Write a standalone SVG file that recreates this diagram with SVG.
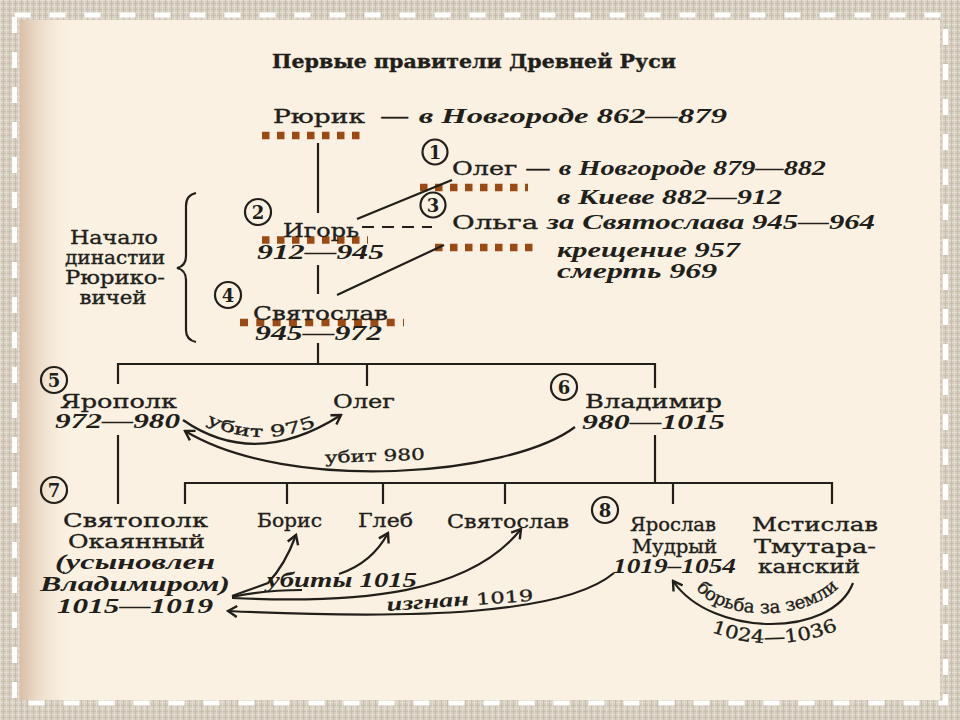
<svg xmlns="http://www.w3.org/2000/svg" width="960" height="720" viewBox="0 0 960 720">
<style>
.t{font-family:"DejaVu Serif","Liberation Serif",serif;font-size:18px;fill:#221e1a;stroke:#221e1a;stroke-width:0.35}
.it{font-family:"Liberation Serif","DejaVu Serif",serif;font-style:italic;font-weight:bold;stroke-width:0;font-size:20px}
.up{font-style:normal;font-weight:normal}
.sm{font-size:16px}
.num{font-family:"DejaVu Serif","Liberation Serif",serif;font-size:18px;font-weight:bold;fill:#221e1a;text-anchor:middle}
.ln{stroke:#221e1a;stroke-width:2.2;fill:none}
.ar{stroke:#221e1a;stroke-width:2.2;fill:none;marker-end:url(#ah)}
.cir{stroke:#221e1a;stroke-width:2.2;fill:none}
.dot{stroke:#9c4a14;stroke-width:7.5;stroke-dasharray:7.5 7.5;fill:none}
</style>
<defs>
<pattern id="burlap" width="6" height="6" patternUnits="userSpaceOnUse">
<rect width="6" height="6" fill="#d6cfc1"/>
<rect x="0" y="0" width="6" height="1" fill="#e4ded2"/>
<rect x="0" y="3" width="6" height="1" fill="#c9c0b0"/>
<rect x="0" y="0" width="1" height="6" fill="#e2dbce"/>
<rect x="3" y="0" width="1" height="6" fill="#c7beae"/>
</pattern>
<linearGradient id="edge" x1="0" y1="0" x2="1" y2="0">
<stop offset="0" stop-color="#d9bfa5"/>
<stop offset="1" stop-color="#fbf1e2" stop-opacity="0"/>
</linearGradient>
<marker id="ah" viewBox="0 0 14 14" refX="12" refY="7" markerWidth="14" markerHeight="14" orient="auto" markerUnits="userSpaceOnUse">
<path d="M3,1.5 L12,7 L3,12.5" fill="none" stroke="#221e1a" stroke-width="2.4"/>
</marker>
</defs>

<rect width="960" height="720" fill="url(#burlap)"/>
<rect x="20" y="20" width="920" height="680" fill="#fbf1e2"/>
<rect x="20" y="20" width="55" height="680" fill="url(#edge)"/>
<rect x="14.5" y="15" width="931" height="688" fill="none" stroke="#ffffff" stroke-width="5" stroke-dasharray="16 19"/>

<g id="title"><text class="t" x="272" y="68" font-weight="bold" font-size="19" textLength="404" lengthAdjust="spacingAndGlyphs">Первые правители Древней Руси</text></g>

<g id="highlights">
<line class="dot" x1="262" y1="135.5" x2="367" y2="135.5"/>
<line class="dot" x1="420" y1="187.5" x2="528" y2="187.5"/>
<line class="dot" x1="262" y1="240" x2="368" y2="240"/>
<line class="dot" x1="435" y1="247.5" x2="540" y2="247.5"/>
<line class="dot" x1="240" y1="322.5" x2="404" y2="322.5" style="stroke-dasharray:8 8.3"/>
</g>

<g id="connectors">
<line class="ln" x1="318" y1="143" x2="318" y2="213"/>
<line class="ln" x1="357" y1="219" x2="452" y2="180"/>
<line class="ln" x1="362" y1="227" x2="432" y2="227" style="stroke-dasharray:12 8"/>
<line class="ln" x1="318" y1="265" x2="318" y2="294"/>
<line class="ln" x1="337" y1="295" x2="444" y2="245"/>
<line class="ln" x1="318" y1="343" x2="318" y2="364"/>
<polyline class="ln" points="118,384 118,364 655,364 655,388"/>
<line class="ln" x1="367" y1="364" x2="367" y2="386"/>
<line class="ln" x1="118" y1="435" x2="118" y2="504"/>
<line class="ln" x1="655" y1="435" x2="655" y2="483"/>
<polyline class="ln" points="185,504 185,483 832,483 832,504"/>
<line class="ln" x1="287" y1="483" x2="287" y2="504"/>
<line class="ln" x1="383" y1="483" x2="383" y2="504"/>
<line class="ln" x1="505" y1="483" x2="505" y2="504"/>
<line class="ln" x1="673" y1="483" x2="673" y2="504"/>
<path class="ln" d="M196,193 Q186,195 186,206 L186,256 Q186,266 177,268 Q186,270 186,280 L186,330 Q186,340 196,342" stroke-width="2.5"/>
<path class="ar" d="M183,420 Q255,470 341,415"/>
<path class="ar" d="M575,427 C510,476 290,494 185,431"/>
<path class="ar" d="M232,596 L268,583 Q285,565 296,535"/>
<path class="ln" d="M232,597 Q265,590 302,590"/>
<path class="ar" d="M339,574 Q372,563 388,533"/>
<path class="ar" d="M232,598 C360,604 470,594 521,529"/>
<path class="ar" d="M614,573 C565,614 420,620 228,611"/>
<path class="ar" d="M853,583 C832,638 712,638 673,581"/>
<path id="p975" d="M206,423 Q262,452 328,421" fill="none"/>
<path id="pzem" d="M696,588 C720,622 808,622 840,586" fill="none"/>
<path id="pyr" d="M711,632 Q775,656 841,629" fill="none"/>
<text class="t sm"><textPath href="#p975" textLength="114" lengthAdjust="spacingAndGlyphs">убит 975</textPath></text>
<text class="t sm" transform="rotate(-2 325 463)" x="325" y="463" textLength="100" lengthAdjust="spacingAndGlyphs">убит 980</text>
<text class="t it" x="267" y="587" font-size="18" textLength="150" lengthAdjust="spacingAndGlyphs">убиты 1015</text>
<text class="t sm" transform="rotate(-4 387 611)" x="387" y="611" textLength="147" lengthAdjust="spacingAndGlyphs"><tspan class="it" font-size="18">изгнан</tspan> 1019</text>
<text class="t" font-size="14.5"><textPath href="#pzem" textLength="156" lengthAdjust="spacingAndGlyphs">борьба за земли</textPath></text>
<text class="t" font-size="15"><textPath href="#pyr" textLength="130" lengthAdjust="spacingAndGlyphs">1024—1036</textPath></text>
</g>

<g id="rurik"><text class="t" x="273" y="123" textLength="92" lengthAdjust="spacingAndGlyphs">Рюрик</text>
<text class="t" x="380" y="123" textLength="347" lengthAdjust="spacingAndGlyphs">— <tspan class="it">в Новгороде 862—879</tspan></text></g>

<g id="oleg1"><circle class="cir" cx="435" cy="152" r="12.5"/><text class="num" x="435" y="158.5">1</text>
<text class="t" x="452" y="175" textLength="374" lengthAdjust="spacingAndGlyphs">Олег — <tspan class="it">в Новгороде 879—882</tspan></text>
<text class="t it" x="557" y="204" textLength="225" lengthAdjust="spacingAndGlyphs">в Киеве 882—912</text></g>

<g id="igor"><circle class="cir" cx="258" cy="212" r="13"/><text class="num" x="258" y="218.5">2</text>
<text class="t" x="283" y="237" textLength="76" lengthAdjust="spacingAndGlyphs">Игорь</text>
<text class="t it" x="257" y="259" textLength="127" lengthAdjust="spacingAndGlyphs">912—945</text></g>

<g id="olga"><circle class="cir" cx="433" cy="205" r="12.5"/><text class="num" x="433" y="211.5">3</text>
<text class="t" x="452" y="229" textLength="423" lengthAdjust="spacingAndGlyphs">Ольга <tspan class="it">за Святослава 945—964</tspan></text>
<text class="t it" x="557" y="257" font-size="17.5" textLength="183" lengthAdjust="spacingAndGlyphs">крещение 957</text>
<text class="t it" x="557" y="278" font-size="17.5" textLength="160" lengthAdjust="spacingAndGlyphs">смерть 969</text></g>

<g id="dynasty" text-anchor="middle">
<text class="t" x="114" y="244" font-size="16.5" textLength="88" lengthAdjust="spacingAndGlyphs">Начало</text>
<text class="t" x="115" y="264" font-size="16.5" textLength="100" lengthAdjust="spacingAndGlyphs">династии</text>
<text class="t" x="115" y="284" font-size="16.5" textLength="100" lengthAdjust="spacingAndGlyphs">Рюрико-</text>
<text class="t" x="113" y="304" font-size="16.5" textLength="67" lengthAdjust="spacingAndGlyphs">вичей</text></g>

<g id="svyatoslav"><circle class="cir" cx="228" cy="295" r="13"/><text class="num" x="228" y="301.5">4</text>
<text class="t" x="253" y="320" textLength="135" lengthAdjust="spacingAndGlyphs">Святослав</text>
<text class="t it" x="255" y="340" textLength="127" lengthAdjust="spacingAndGlyphs">945—972</text></g>

<g id="yaropolk"><circle class="cir" cx="54" cy="380" r="13"/><text class="num" x="54" y="386.5">5</text>
<text class="t" x="60" y="408" textLength="117" lengthAdjust="spacingAndGlyphs">Ярополк</text>
<text class="t it" x="55" y="428" textLength="125" lengthAdjust="spacingAndGlyphs">972—980</text></g>

<g id="oleg2"><text class="t" x="333" y="408" textLength="62" lengthAdjust="spacingAndGlyphs">Олег</text></g>

<g id="vladimir"><circle class="cir" cx="564" cy="387" r="13"/><text class="num" x="564" y="393.5">6</text>
<text class="t" x="585" y="408" textLength="137" lengthAdjust="spacingAndGlyphs">Владимир</text>
<text class="t it" x="582" y="429" textLength="143" lengthAdjust="spacingAndGlyphs">980—1015</text></g>

<g id="svyatopolk"><circle class="cir" cx="54" cy="490" r="13"/><text class="num" x="54" y="496.5">7</text>
<text class="t" x="63" y="527" textLength="145" lengthAdjust="spacingAndGlyphs">Святополк</text>
<text class="t" x="68" y="548" textLength="137" lengthAdjust="spacingAndGlyphs">Окаянный</text>
<text class="t it" x="55" y="569" textLength="160" lengthAdjust="spacingAndGlyphs">(усыновлен</text>
<text class="t it" x="40" y="591" textLength="190" lengthAdjust="spacingAndGlyphs">Владимиром)</text>
<text class="t it" x="57" y="613" textLength="156" lengthAdjust="spacingAndGlyphs">1015—1019</text></g>

<g id="boris"><text class="t" x="257" y="527" textLength="65" lengthAdjust="spacingAndGlyphs">Борис</text></g>
<g id="gleb"><text class="t" x="358" y="527" textLength="55" lengthAdjust="spacingAndGlyphs">Глеб</text></g>
<g id="svyatoslav2"><text class="t" x="447" y="528" textLength="122" lengthAdjust="spacingAndGlyphs">Святослав</text></g>

<g id="yaroslav"><circle class="cir" cx="605" cy="510" r="13"/><text class="num" x="605" y="516.5">8</text>
<text class="t" x="630" y="531" textLength="86" lengthAdjust="spacingAndGlyphs">Ярослав</text>
<text class="t" x="632" y="553" textLength="85" lengthAdjust="spacingAndGlyphs">Мудрый</text>
<text class="t it" x="613" y="573" textLength="123" lengthAdjust="spacingAndGlyphs">1019–1054</text></g>

<g id="mstislav"><text class="t" x="752" y="531" textLength="126" lengthAdjust="spacingAndGlyphs">Мстислав</text>
<text class="t" x="754" y="553" textLength="122" lengthAdjust="spacingAndGlyphs">Тмутара-</text>
<text class="t" x="758" y="573" textLength="102" lengthAdjust="spacingAndGlyphs">канский</text></g>
</svg>
